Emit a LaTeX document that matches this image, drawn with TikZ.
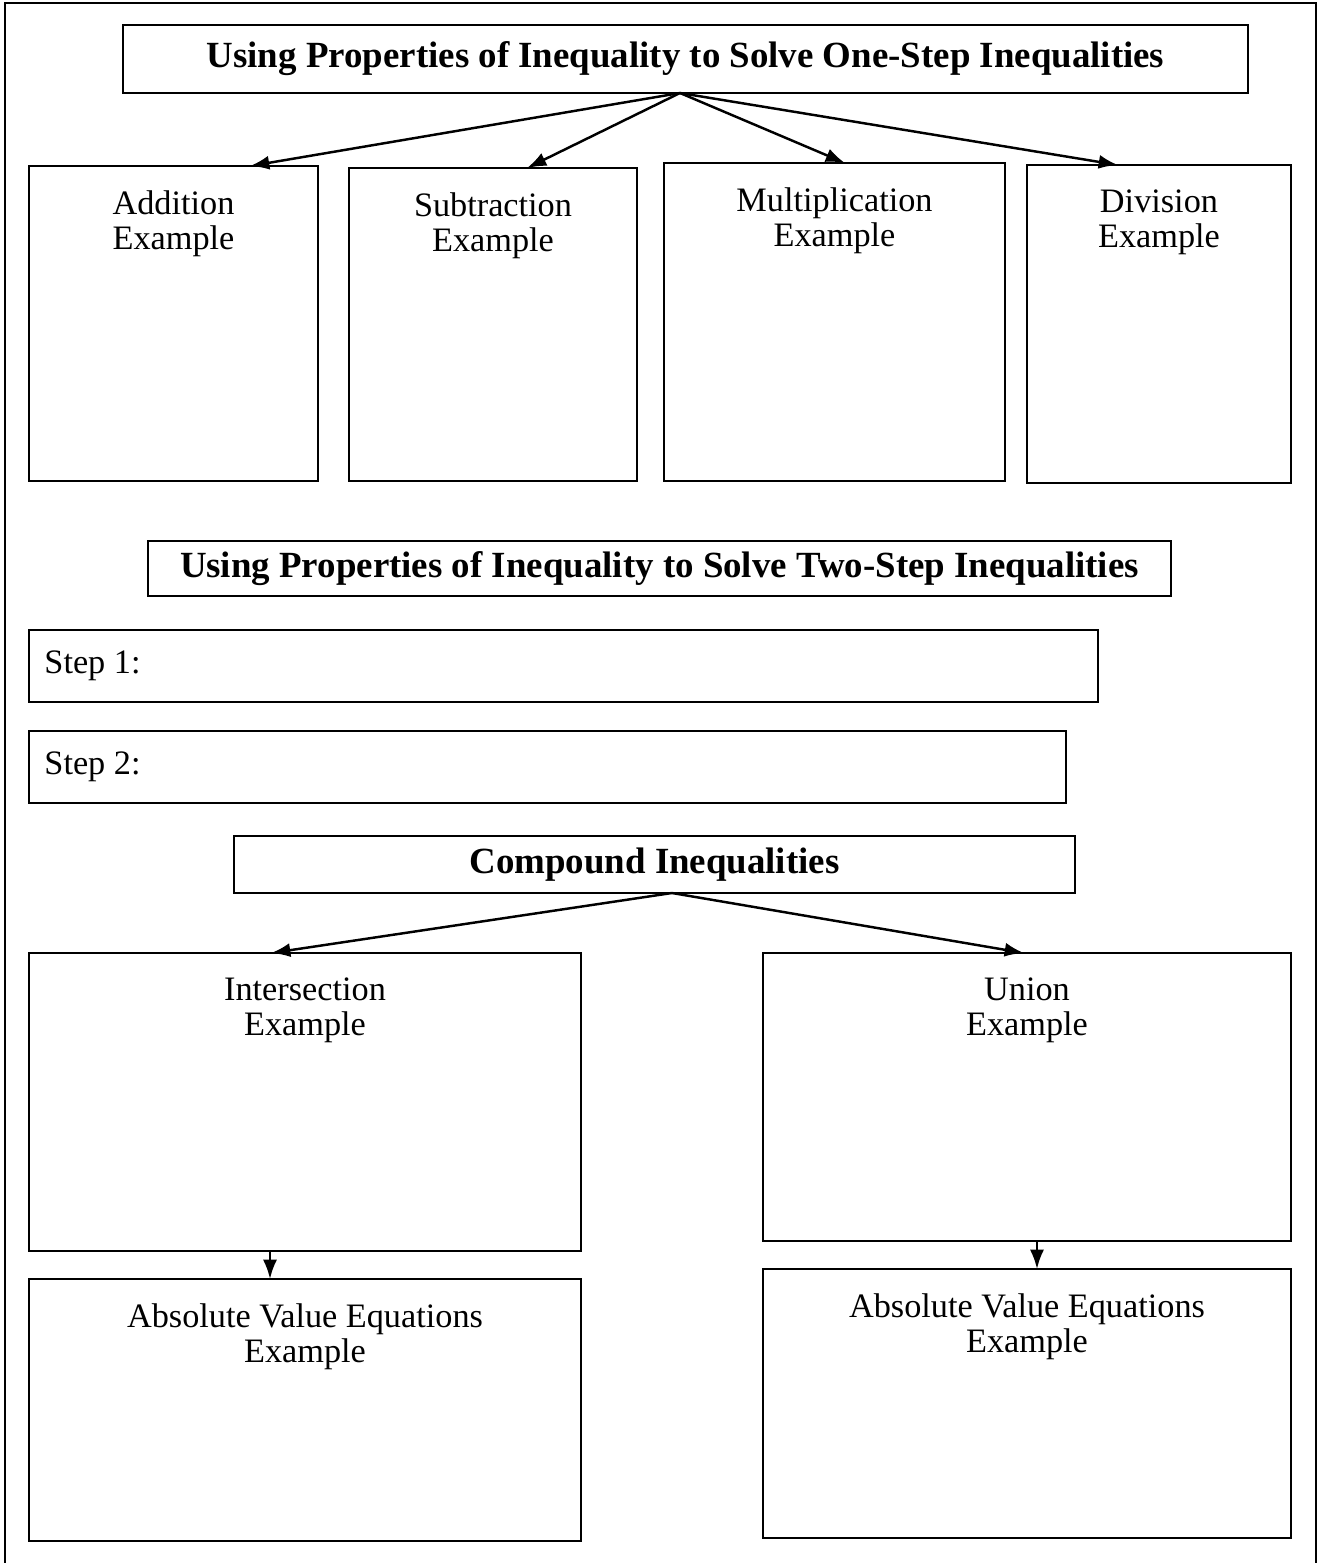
\documentclass[tikz,border=0pt]{standalone}
\usepackage{fontspec}
\setmainfont{Liberation Serif}
\usetikzlibrary{arrows.meta}

\begin{document}
\begin{tikzpicture}[x=0.02cm,y=-0.02cm,>={Latex[length=11pt,width=8pt]},
    font=\fontsize{19.5}{20}\selectfont]
    \tikzset{
        box/.style={draw,line width=1.4pt,inner sep=0pt,outer sep=0pt},
        heading/.style={box,font=\fontsize{21}{22}\selectfont\bfseries},
        boxtext/.style={anchor=north,align=center,inner sep=0pt,yshift=-0.48cm},
        steptext/.style={anchor=west,inner sep=0pt,xshift=0.30cm},
        flow/.style={->,line width=1.4pt}
    }
    \useasboundingbox (0,0) rectangle (1319,1563);

    % frame, open at the bottom
    \draw[line width=0.9pt] (5,1563) -- (5,3) -- (1316,3) -- (1316,1563);

    % one-step inequalities
    \node[heading,minimum width=22.50cm,minimum height=1.36cm] (onestep)
        at (685.5,59)
        {Using Properties of Inequality to Solve One-Step Inequalities};
    \node[box,minimum width=5.78cm,minimum height=6.30cm,
        label={[boxtext]north:{Addition\\Example}}] (addition) at (173.5,323.5) {};
    \node[box,minimum width=5.76cm,minimum height=6.26cm,
        label={[boxtext]north:{Subtraction\\Example}}] (subtraction) at (493,324.5) {};
    \node[box,minimum width=6.82cm,minimum height=6.36cm,
        label={[boxtext]north:{Multiplication\\Example}}] (multiplication) at (834.5,322) {};
    \node[box,minimum width=5.28cm,minimum height=6.36cm,
        label={[boxtext]north:{Division\\Example}}] (division) at (1159,324) {};

    \draw[flow] ([xshift=-0.11cm]onestep.south) -- ([xshift=1.53cm]addition.north);
    \draw[flow] ([xshift=-0.11cm]onestep.south) -- ([xshift=0.68cm]subtraction.north);
    \draw[flow] ([xshift=-0.11cm]onestep.south) -- ([xshift=0.21cm]multiplication.north);
    \draw[flow] ([xshift=-0.11cm]onestep.south) -- ([xshift=-0.82cm]division.north);

    % two-step inequalities
    \node[heading,minimum width=20.46cm,minimum height=1.10cm] (twostep)
        at (659.5,568.5)
        {Using Properties of Inequality to Solve Two-Step Inequalities};
    \node[box,minimum width=21.38cm,minimum height=1.44cm,
        label={[steptext]west:Step 1:}] (step-one) at (563.5,666) {};
    \node[box,minimum width=20.74cm,minimum height=1.44cm,
        label={[steptext]west:Step 2:}] (step-two) at (547.5,767) {};

    % compound inequalities
    \node[heading,minimum width=16.82cm,minimum height=1.14cm] (compound)
        at (654.5,864.5) {Compound Inequalities};
    \node[box,minimum width=11.04cm,minimum height=5.96cm,
        label={[boxtext]north:{Intersection\\Example}}] (intersection) at (305,1102) {};
    \node[box,minimum width=10.56cm,minimum height=5.76cm,
        label={[boxtext]north:{Union\\Example}}] (union) at (1027,1097) {};
    \node[box,minimum width=11.04cm,minimum height=5.24cm,
        label={[boxtext]north:{Absolute Value Equations\\Example}}] (abs-left) at (305,1410) {};
    \node[box,minimum width=10.56cm,minimum height=5.38cm,
        label={[boxtext]north:{Absolute Value Equations\\Example}}] (abs-right) at (1027,1403.5) {};

    \draw[flow] ([xshift=0.35cm]compound.south) -- ([xshift=-0.68cm]intersection.north);
    \draw[flow] ([xshift=0.35cm]compound.south) -- ([xshift=-0.06cm]union.north);
    \draw[flow] ([xshift=-0.70cm]intersection.south) -- ([xshift=-0.70cm]abs-left.north);
    \draw[flow] ([xshift=0.20cm]union.south) -- ([xshift=0.20cm]abs-right.north);
\end{tikzpicture}
\end{document}
